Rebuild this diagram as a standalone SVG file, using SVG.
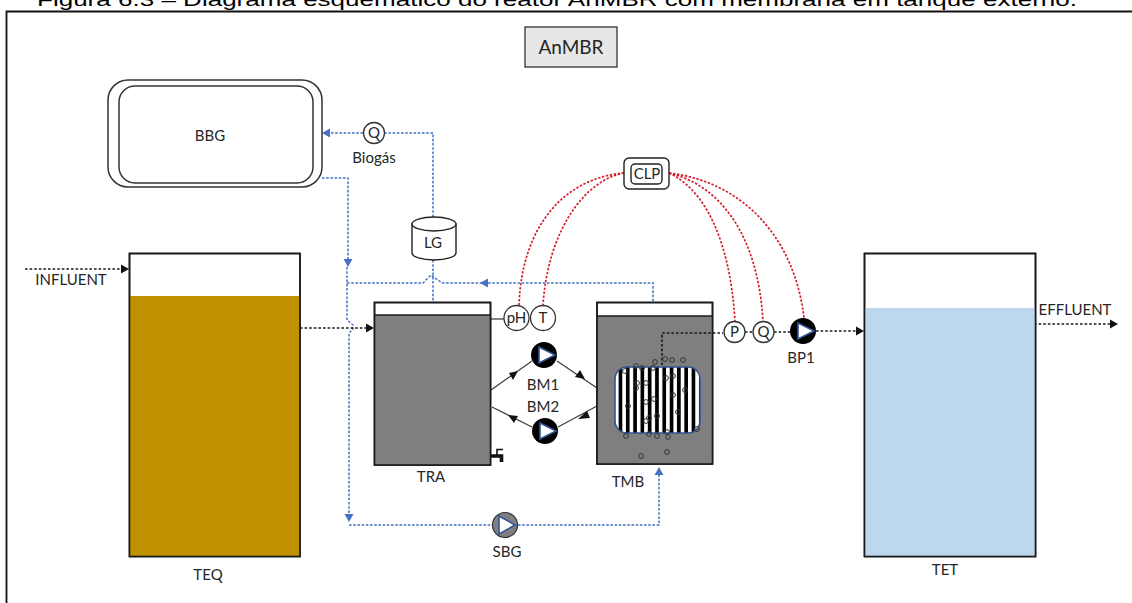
<svg xmlns="http://www.w3.org/2000/svg" xmlns:xlink="http://www.w3.org/1999/xlink" width="1132" height="603" viewBox="0 0 1132 603">
<style>
text{font-family:"Lato","Open Sans","Liberation Sans",sans-serif;fill:#262626;text-anchor:middle;font-size:15px}
.tank{fill:#fff;stroke:#1a1a1a;stroke-width:1.6}
.edge{fill:none;stroke:#1a1a1a;stroke-width:1.6}
.inst{fill:#fff;stroke:#333;stroke-width:1.3}
.blue{fill:none;stroke:#4472C4;stroke-width:1.5;stroke-dasharray:2.6 1.6}
.black{fill:none;stroke:#1a1a1a;stroke-width:1.7;stroke-dasharray:2.6 2}
.red{fill:none;stroke:#D3202E;stroke-width:1.7;stroke-dasharray:2.4 1.6}
.solid{fill:none;stroke:#404040;stroke-width:1.3}
.tri{fill:#fff;stroke:#2F5597;stroke-width:1.6}
.bub{fill:none;stroke:#333;stroke-width:1}
.ahb{fill:#4472C4}
.ahk{fill:#111}
</style>
<defs>
<pattern id="stripes" patternUnits="userSpaceOnUse" x="615" y="367" width="7.3" height="10">
<rect width="7.3" height="10" fill="#fff"/>
<rect x="3.6" width="3.7" height="10" fill="#000"/>
</pattern>
<polygon id="tipL" points="0,0 8,-4.5 8,4.5"/>
<polygon id="tipR" points="0,0 -8,-4.5 -8,4.5"/>
<polygon id="tipD" points="0,0 -4.5,-8 4.5,-8"/>
<polygon id="tipU" points="0,0 -4.5,8 4.5,8"/>
</defs>
<rect width="1132" height="603" fill="#fff"/>
<text x="557" y="5.500" textLength="1040" lengthAdjust="spacingAndGlyphs" style="font-family:'Liberation Sans',Arial,sans-serif;font-size:18.5px;fill:#000">Figura 6.3 – Diagrama esquemático do reator AnMBR com membrana em tanque externo.</text>
<path d="M6.5 603V11.5H1132" fill="none" stroke="#111" stroke-width="1.8"/>

<g id="connectors">
<path class="blue" d="M433 217V133H385"/>
<path class="blue" d="M363 133H330"/>
<use xlink:href="#tipL" class="ahb" x="322" y="133"/>
<path class="blue" d="M322 178H348V260"/>
<use xlink:href="#tipD" class="ahb" x="348" y="267"/>
<path class="blue" d="M347 267V320L353 325V329L349 333V515"/>
<use xlink:href="#tipD" class="ahb" x="349" y="522"/>
<path class="blue" d="M349 525H492"/>
<path class="blue" d="M518 525H659V475"/>
<use xlink:href="#tipU" class="ahb" x="659" y="467"/>
<path class="blue" d="M347 283H423L431 275L442 283H653V302"/>
<use xlink:href="#tipL" class="ahb" x="480" y="283"/>
<path class="blue" d="M433 260V302"/>

<path class="black" d="M25 269H122"/>
<use xlink:href="#tipR" class="ahk" x="129" y="269"/>
<path class="black" d="M300 328H367"/>
<use xlink:href="#tipR" class="ahk" x="374" y="328"/>
<path class="black" d="M745 332H752"/>
<path class="black" d="M774 332H790"/>
<path class="black" d="M816 331H857"/>
<use xlink:href="#tipR" class="ahk" x="864" y="331"/>
<path class="black" d="M1034 324H1111"/>
<use xlink:href="#tipR" class="ahk" x="1118" y="324"/>

<path class="red" d="M624 173C565 178 522 225 519 305"/>
<path class="red" d="M624 173C585 180 548 230 543 305"/>
<path class="red" d="M669 173C705 190 730 240 735 321"/>
<path class="red" d="M669 173C720 185 758 235 763 321"/>
<path class="red" d="M669 173C745 182 795 240 804 318"/>

<path class="solid" d="M488 319H504"/>
<path class="solid" d="M491 390L532 361"/>
<polygon class="ahk" points="518,371 509,373 513,380"/>
<path class="solid" d="M557 361L597 388"/>
<polygon class="ahk" points="585,379 575,377 580,370"/>
<path class="solid" d="M597 406L558 427"/>
<polygon class="ahk" points="578,419 587,411 590,418"/>
<path class="solid" d="M532 427L492 407"/>
<polygon class="ahk" points="508,415 518,416 514,423"/>
</g>

<g id="BBG">
<rect x="108" y="80" width="214" height="107" rx="20" fill="#fff" stroke="#333" stroke-width="1.5"/>
<rect x="119" y="86" width="194" height="97" rx="16" fill="#fff" stroke="#333" stroke-width="1.5"/>
<text x="210" y="141">BBG</text>
</g>
<g id="AnMBR">
<rect x="525" y="27" width="92" height="40" fill="#E7E7E7" stroke="#333" stroke-width="1.3"/>
<text x="571" y="54" style="font-size:19px">AnMBR</text>
</g>
<g id="Q-biogas">
<circle class="inst" cx="374" cy="133" r="10.5"/>
<text x="374" y="138">Q</text>
<text x="374" y="163">Biogás</text>
</g>
<g id="LG">
<path d="M412 224V253A22 7 0 0 0 456 253V224Z" fill="#fff" stroke="#222" stroke-width="1.4"/>
<ellipse cx="434" cy="224" rx="22" ry="7" fill="#fff" stroke="#222" stroke-width="1.4"/>
<text x="433" y="248">LG</text>
</g>
<g id="CLP">
<rect x="624" y="158" width="45" height="31" rx="5" fill="#fff" stroke="#222" stroke-width="1.4"/>
<rect x="631" y="164" width="31" height="20" rx="4" fill="#fff" stroke="#222" stroke-width="1.4"/>
<text x="647" y="179">CLP</text>
</g>
<g id="TEQ">
<rect class="tank" x="129.500" y="253.500" width="170.500" height="303"/>
<rect x="130" y="296" width="170" height="260" fill="#BF9000"/>
<rect class="edge" x="129.500" y="253.500" width="170.500" height="303"/>
<text x="208" y="580">TEQ</text>
</g>
<g id="TRA">
<rect class="tank" x="374.500" y="302.500" width="116" height="162.500"/>
<rect x="375" y="315" width="115" height="150" fill="#7F7F7F"/>
<path d="M375 315H490" class="edge"/>
<rect class="edge" x="374.500" y="302.500" width="116" height="162.500"/>
<text x="431" y="482">TRA</text>
<path d="M490 456H501.500V462M501.500 456" fill="none" stroke="#111" stroke-width="3.6"/>
<path d="M497 456V449.500H503" fill="none" stroke="#111" stroke-width="1.6"/>
</g>
<g id="TMB">
<rect class="tank" x="597" y="302.500" width="115.500" height="161.500"/>
<rect x="597.500" y="316" width="114.500" height="148" fill="#7F7F7F"/>
<path d="M597 316H712" class="edge"/>
<rect class="edge" x="597" y="302.500" width="115.500" height="161.500"/>
<text x="628" y="487">TMB</text>
</g>
<g id="membrana">
<rect x="615" y="367" width="85" height="66" rx="12" fill="url(#stripes)" stroke="#2F5597" stroke-width="1.6"/>
<path class="black" d="M662 365V333H723"/>
<g class="bub">
<circle cx="655" cy="362" r="2.4"/><circle cx="665" cy="359" r="2.4"/><circle cx="672" cy="360" r="2.4"/><circle cx="683" cy="360" r="2.4"/><circle cx="636" cy="366" r="2.4"/><circle cx="642" cy="368" r="2.4"/><circle cx="653" cy="368" r="2.4"/><circle cx="625" cy="371" r="2.4"/><circle cx="666" cy="378" r="2.4"/><circle cx="673" cy="376" r="2.4"/><circle cx="646" cy="383" r="2.4"/><circle cx="637" cy="383" r="2.4"/><circle cx="636" cy="388" r="2.4"/><circle cx="685" cy="390" r="2.4"/><circle cx="673" cy="395" r="2.4"/><circle cx="654" cy="399" r="2.4"/><circle cx="646" cy="402" r="2.4"/><circle cx="628" cy="406" r="2.4"/><circle cx="678" cy="412" r="2.4"/><circle cx="657" cy="416" r="2.4"/><circle cx="649" cy="418" r="2.4"/><circle cx="646" cy="421" r="2.4"/><circle cx="697" cy="429" r="2.4"/><circle cx="667" cy="432" r="2.4"/><circle cx="626" cy="436" r="2.4"/><circle cx="649" cy="434" r="2.4"/><circle cx="657" cy="436" r="2.4"/><circle cx="668" cy="437" r="2.4"/><circle cx="641" cy="456" r="2.4"/><circle cx="667" cy="452" r="2.4"/>
</g>
</g>
<g id="TET">
<rect class="tank" x="864.500" y="253.500" width="171" height="303"/>
<rect x="865" y="308" width="170" height="248" fill="#BDD7EE"/>
<rect class="edge" x="864.500" y="253.500" width="171" height="303"/>
<text x="945" y="575">TET</text>
</g>
<g id="pH"><circle class="inst" cx="516.500" cy="318" r="12.500"/><text x="516.500" y="323">pH</text></g>
<g id="T"><circle class="inst" cx="543" cy="318" r="12.500"/><text x="543" y="323">T</text></g>
<g id="P"><circle class="inst" cx="734.500" cy="332" r="10.500"/><text x="734.500" y="337">P</text></g>
<g id="Q"><circle class="inst" cx="763.500" cy="332" r="10.500"/><text x="763.500" y="337">Q</text></g>
<g id="BM1"><circle cx="544" cy="355" r="13" fill="#000"/><polygon class="tri" points="539,347 555,355 539,363"/><text x="543" y="390">BM1</text></g>
<g id="BM2"><circle cx="545" cy="431" r="13" fill="#000"/><polygon class="tri" points="540,423 556,431 540,439"/><text x="543" y="412">BM2</text></g>
<g id="BP1"><circle cx="803" cy="331" r="13" fill="#000"/><polygon class="tri" points="798,323 814,331 798,339"/><text x="801" y="363">BP1</text></g>
<g id="SBG"><circle cx="505" cy="525" r="12.500" fill="#7F7F7F" stroke="#333" stroke-width="1.2"/><polygon class="tri" points="499,516 515,525 499,534"/><text x="507" y="557">SBG</text></g>
<g id="labels">
<text x="71" y="285">INFLUENT</text>
<text x="1075" y="315">EFFLUENT</text>
</g>
</svg>
